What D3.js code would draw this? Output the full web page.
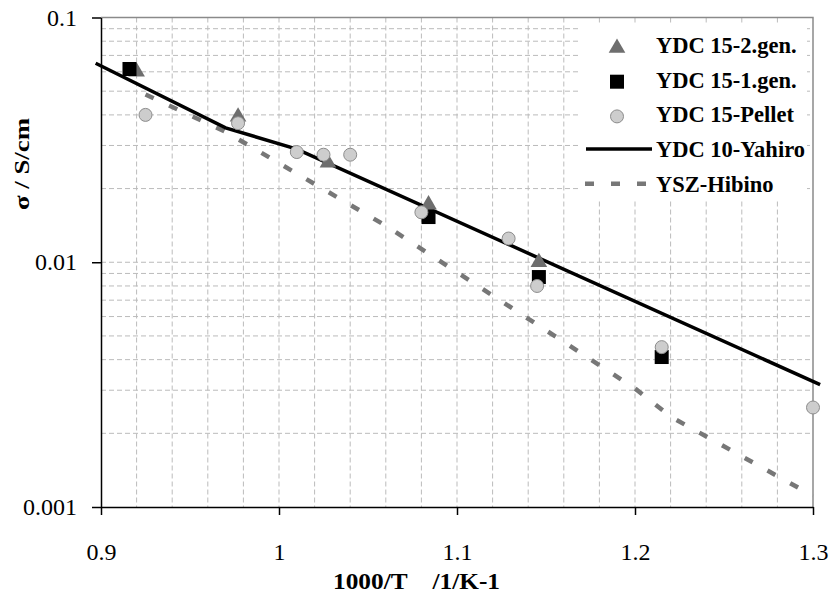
<!DOCTYPE html>
<html>
<head>
<meta charset="utf-8">
<script src="https://cdn.jsdelivr.net/npm/d3@7"></script>
<style>
    body { margin: 0; background: #fff; }
    svg text { font-family: "Liberation Serif", "DejaVu Serif", "Times New Roman", serif; }
</style>
</head>
<body>
<svg id="chart" width="833" height="594"></svg>
<script>
// data
const gen2X = [0.920, 0.977, 1.0275, 1.084, 1.146];
const gen2Y = [0.060, 0.0393, 0.0255, 0.0172, 0.0100];

const gen1X = [0.916, 1.084, 1.146, 1.215];
const gen1Y = [0.0616, 0.0153, 0.0087, 0.0041];

const pelletX = [0.925, 0.977, 1.010, 1.025, 1.040, 1.080, 1.129, 1.145, 1.215, 1.300];
const pelletY = [0.040, 0.037, 0.0282, 0.0275, 0.0275, 0.0160, 0.0125, 0.0080, 0.0045, 0.00255];

const yahiroX = [0.897, 0.97, 1.01, 1.304];
const yahiroY = [0.0650, 0.0354, 0.029, 0.00316];

const hibinoX = [0.925, 0.97, 1.06, 1.2, 1.22, 1.3];
const hibinoY = [0.0485, 0.0341, 0.0141, 0.00305, 0.00234, 0.00111];

const xTicks = [0.9, 1, 1.1, 1.2, 1.3];
const yTicks = [0.001, 0.01, 0.1];
const legendNames = ["YDC 15-2.gen.", "YDC 15-1.gen.", "YDC 15-Pellet", "YDC 10-Yahiro", "YSZ-Hibino"];

const zip = (xs, ys) => xs.map((x, i) => [x, ys[i]]);

const svg = d3.select("#chart");
const pLeft = 101, pRight = 813, pTop = 17.5, pBottom = 507;

const x = d3.scaleLinear().domain([0.9, 1.3]).range([pLeft, pRight]);
const y = d3.scaleLog().domain([0.001, 0.1]).range([pBottom, pTop]);

// grid
const grid = svg.append("g")
    .attr("stroke", "#bbbbbb")
    .attr("stroke-width", 1)
    .attr("stroke-dasharray", "5,3");

grid.selectAll("line.v")
    .data(d3.range(0.92, 1.299, 0.02))
    .enter()
    .append("line")
    .attr("x1", d => x(d)).attr("x2", d => x(d))
    .attr("y1", pTop).attr("y2", pBottom);

let yGrid = [];
[0.001, 0.01].forEach(dec => d3.range(2, 11).forEach(k => yGrid.push(dec * k)));
yGrid = yGrid.filter(v => v < 0.099);
grid.selectAll("line.h")
    .data(yGrid)
    .enter()
    .append("line")
    .attr("x1", pLeft).attr("x2", pRight)
    .attr("y1", d => y(d)).attr("y2", d => y(d));

// frame: top and right in grey
svg.append("path")
    .attr("d", `M${pLeft},${pTop}H${pRight}V${pBottom}`)
    .attr("fill", "none")
    .attr("stroke", "#8a8a8a")
    .attr("stroke-width", 1.5);

// axes
const xAxis = svg.append("g")
    .attr("transform", `translate(0,${pBottom})`)
    .call(d3.axisBottom(x).tickValues(xTicks).tickSize(8).tickSizeOuter(0).tickPadding(28)
        .tickFormat(d3.format("~g")));

const yAxis = svg.append("g")
    .attr("transform", `translate(${pLeft},0)`)
    .call(d3.axisLeft(y).tickValues(yTicks).tickSize(9).tickSizeOuter(0).tickPadding(15)
        .tickFormat(d3.format("~g")));

[xAxis, yAxis].forEach(a => {
    a.attr("font-family", null);
    a.selectAll("path, line").attr("stroke", "#000").attr("stroke-width", 1.5);
    a.selectAll("text")
        .attr("font-size", 24)
        .attr("fill", "#000");
});

// lines
const line = d3.line().x(d => x(d[0])).y(d => y(d[1]));

svg.append("path")
    .datum(zip(hibinoX, hibinoY))
    .attr("d", line)
    .attr("fill", "none")
    .attr("stroke", "#777")
    .attr("stroke-width", 4.5)
    .attr("stroke-dasharray", "9,17");

svg.append("path")
    .datum(zip(yahiroX, yahiroY))
    .attr("d", line)
    .attr("fill", "none")
    .attr("stroke", "#000")
    .attr("stroke-width", 3.5);

// markers
const tri = d3.symbol().type(d3.symbolTriangle).size(120);

svg.append("g").selectAll("path")
    .data(zip(gen2X, gen2Y))
    .enter()
    .append("path")
    .attr("d", tri)
    .attr("transform", d => `translate(${x(d[0])},${y(d[1])})`)
    .attr("fill", "#6e6e6e");

svg.append("g").selectAll("rect")
    .data(zip(gen1X, gen1Y))
    .enter()
    .append("rect")
    .attr("x", d => x(d[0]) - 7).attr("y", d => y(d[1]) - 7)
    .attr("width", 14).attr("height", 14)
    .attr("fill", "#000");

svg.append("g").selectAll("circle")
    .data(zip(pelletX, pelletY))
    .enter()
    .append("circle")
    .attr("cx", d => x(d[0])).attr("cy", d => y(d[1]))
    .attr("r", 6.5)
    .attr("fill", "#cdcdcd")
    .attr("stroke", "#8c8c8c")
    .attr("stroke-width", 1);

// legend
const lg = svg.append("g");
lg.append("rect")
    .attr("x", 578).attr("y", 25)
    .attr("width", 229).attr("height", 176)
    .attr("fill", "#fff");

const rowY = i => 53 + i * 34.7;

lg.selectAll("text")
    .data(legendNames)
    .enter()
    .append("text")
    .attr("x", 656)
    .attr("y", (d, i) => rowY(i))
    .attr("font-size", 22.5)
    .attr("font-weight", "bold")
    .text(d => d);

lg.append("path")
    .attr("d", tri)
    .attr("transform", `translate(617,${rowY(0) - 5})`)
    .attr("fill", "#6e6e6e");

lg.append("rect")
    .attr("x", 610).attr("y", rowY(1) - 13)
    .attr("width", 14).attr("height", 14)
    .attr("fill", "#000");

lg.append("circle")
    .attr("cx", 617).attr("cy", rowY(2) - 6)
    .attr("r", 6.5)
    .attr("fill", "#cdcdcd")
    .attr("stroke", "#8c8c8c");

lg.append("line")
    .attr("x1", 586).attr("x2", 652)
    .attr("y1", rowY(3) - 8).attr("y2", rowY(3) - 8)
    .attr("stroke", "#000")
    .attr("stroke-width", 3.5);

lg.append("line")
    .attr("x1", 585).attr("x2", 652)
    .attr("y1", rowY(4) - 8).attr("y2", rowY(4) - 8)
    .attr("stroke", "#777")
    .attr("stroke-width", 4.5)
    .attr("stroke-dasharray", "9,17");

// axis titles
svg.append("text")
    .attr("x", 333).attr("y", 589)
    .attr("font-size", 23)
    .attr("font-weight", "bold")
    .attr("textLength", 167)
    .attr("lengthAdjust", "spacingAndGlyphs")
    .style("white-space", "pre")
    .text("1000/T    /1/K-1");

svg.append("text")
    .attr("transform", "translate(29,164) rotate(-90)")
    .attr("x", -46)
    .attr("font-size", 22)
    .attr("font-weight", "bold")
    .attr("textLength", 92)
    .attr("lengthAdjust", "spacingAndGlyphs")
    .text("σ / S/cm");
</script>
</body>
</html>
